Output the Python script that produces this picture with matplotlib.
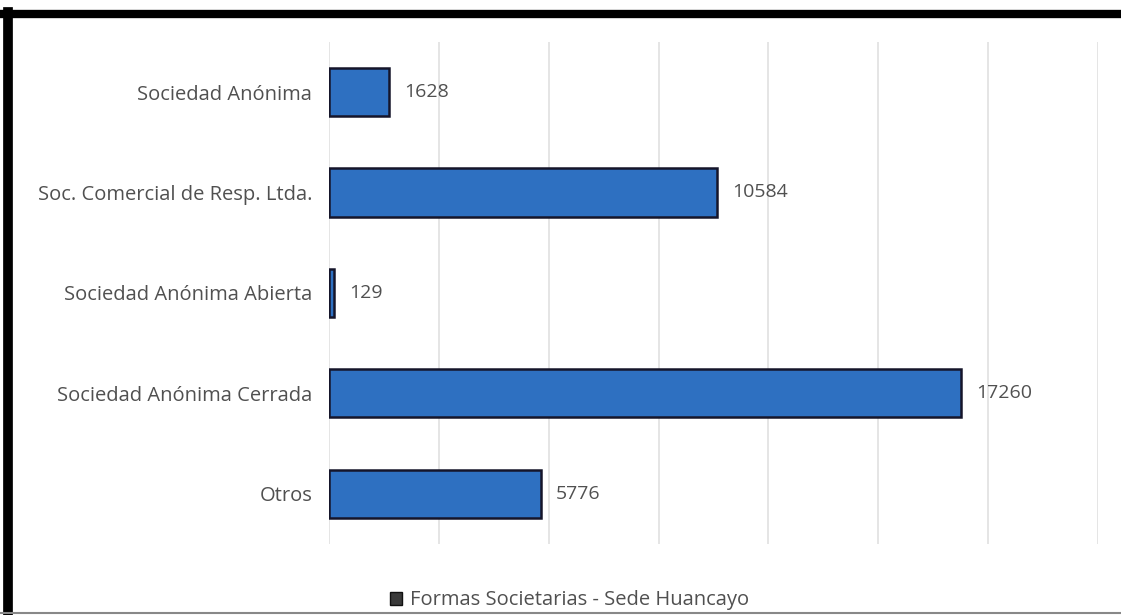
import matplotlib.pyplot as plt
from matplotlib.lines import Line2D
from matplotlib.patches import Patch

categories = [
    "Sociedad Anónima",
    "Soc. Comercial de Resp. Ltda.",
    "Sociedad Anónima Abierta",
    "Sociedad Anónima Cerrada",
    "Otros",
]
values = [1628, 10584, 129, 17260, 5776]
series_name = "Formas Societarias - Sede Huancayo"

x_max = 21000
x_step = 3000

bar_color = "#2e70c1"
edge_color = "#15152a"
text_color = "#505050"

plt.rcParams["font.family"] = ["Open Sans", "DejaVu Sans"]

fig = plt.figure(figsize=(11.21, 6.15), dpi=100, facecolor="white")
ax = fig.add_axes([0.2935, 0.1155, 0.686, 0.8165])

pos = list(range(len(categories)))
ax.barh(pos, values, height=0.48, color=bar_color, edgecolor=edge_color,
        linewidth=1.8, zorder=3)

for p, v in zip(pos, values):
    ax.annotate(str(v), (v, p), xytext=(11, 0), textcoords="offset points",
                ha="left", va="center", fontsize=14, color=text_color)

ax.set_yticks(pos)
ax.set_yticklabels(categories, fontsize=14.5, color=text_color)
ax.set_ylim(len(categories) - 0.5, -0.5)
ax.set_xlim(0, x_max)
ax.set_xticks(range(0, x_max + 1, x_step))
ax.set_xticklabels([])
ax.tick_params(axis="both", length=0)
ax.tick_params(axis="y", pad=12)
ax.grid(axis="x", color="#e0e0e0", linewidth=1.2, zorder=0)
for s in ax.spines.values():
    s.set_visible(False)

fig.legend(handles=[Patch(facecolor="#3a3a3a", edgecolor="#111111", label=series_name)],
           loc="center", bbox_to_anchor=(0.508, 0.024), frameon=False,
           fontsize=14.5, handlelength=0.6, handleheight=0.6, handletextpad=0.4,
           labelcolor=text_color)

# picture frame: heavy top and left borders, thin grey bottom
fig.add_artist(Line2D([0, 1], [0.977, 0.977], color="black", linewidth=6,
                      transform=fig.transFigure))
fig.add_artist(Line2D([0.0075, 0.0075], [0, 0.98], color="black", linewidth=7,
                      transform=fig.transFigure))
fig.add_artist(Line2D([0, 1], [0.003, 0.003], color="#888888", linewidth=1.5,
                      transform=fig.transFigure))

fig.savefig("out.png", dpi=100, facecolor="white")
